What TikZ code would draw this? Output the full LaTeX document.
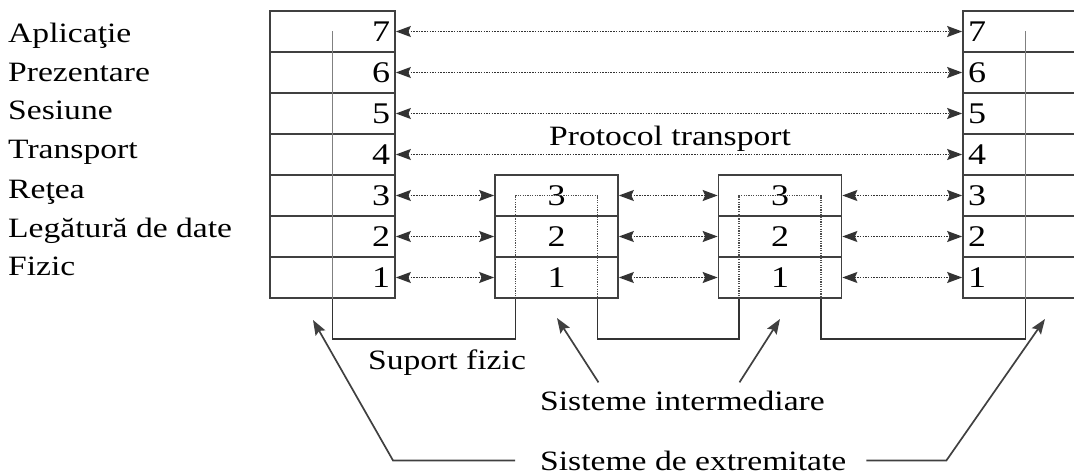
\documentclass[tikz,border=0pt]{standalone}
\usepackage{fontspec}
\setmainfont{Liberation Serif}[FakeStretch=1.2]
\usetikzlibrary{arrows.meta}
\newcommand{\lblsize}{\fontsize{28pt}{30pt}\selectfont}
\newcommand{\digsize}{\fontsize{30pt}{32pt}\selectfont}
\tikzset{
  layerleft/.style={draw=black!75, line width=1.7pt, minimum height=41pt, text width=115pt, inner xsep=5pt, inner ysep=0pt, align=right, font=\digsize},
  layerright/.style={layerleft, align=left},
  layermid/.style={layerleft, text width=113pt, align=center},
  level/.style={anchor=base west, inner sep=0pt, font=\lblsize},
  caption/.style={anchor=base west, inner sep=0pt, font=\lblsize},
  peer/.style={draw=black!80, dash pattern=on 1.5pt off 1.2pt, line width=1.4pt, {Stealth[length=15pt,width=11pt,inset=2.5pt]}-{Stealth[length=15pt,width=11pt,inset=2.5pt]}},
  pointer/.style={line width=1.7pt, draw=black!75, -{Stealth[length=15pt,width=11pt,inset=2.5pt]}},
  medium/.style={line width=1.5pt, draw=black!80},
  inner/.style={line width=1.1pt, draw=black!50},
  innerdot/.style={line width=1.2pt, draw=black!70, dash pattern=on 1.2pt off 1.2pt}
}

\begin{document}
\begin{tikzpicture}[x=1pt,y=-1pt]
\useasboundingbox (0,0) rectangle (1074,476);
\clip (0,0) rectangle (1074,476);
% layer names
\node[level] (apl) at (8,43) {Aplicaţie};
\node[level] (pre) at (8,82) {Prezentare};
\node[level] (ses) at (8,120) {Sesiune};
\node[level] (tra) at (8,159) {Transport};
\node[level] (ret) at (8,198) {Reţea};
\node[level] (leg) at (8,237) {Legătură de date};
\node[level] (fiz) at (8,275) {Fizic};
% end system, left
\node[layerleft] (l7) at (332.5,31.5) {7};
\node[layerleft] (l6) at (332.5,72.5) {6};
\node[layerleft] (l5) at (332.5,113.5) {5};
\node[layerleft] (l4) at (332.5,154.5) {4};
\node[layerleft] (l3) at (332.5,195.5) {3};
\node[layerleft] (l2) at (332.5,236.5) {2};
\node[layerleft] (l1) at (332.5,277.5) {1};
% end system, right
\node[layerright] (r7) at (1025.5,31.5) {7};
\node[layerright] (r6) at (1025.5,72.5) {6};
\node[layerright] (r5) at (1025.5,113.5) {5};
\node[layerright] (r4) at (1025.5,154.5) {4};
\node[layerright] (r3) at (1025.5,195.5) {3};
\node[layerright] (r2) at (1025.5,236.5) {2};
\node[layerright] (r1) at (1025.5,277.5) {1};
% intermediate systems
\node[layermid] (a3) at (556.5,195.5) {3};
\node[layermid] (a2) at (556.5,236.5) {2};
\node[layermid] (a1) at (556.5,277.5) {1};
\node[layermid] (b3) at (780,195.5) {3};
\node[layermid] (b2) at (780,236.5) {2};
\node[layermid] (b1) at (780,277.5) {1};
% peer protocols
\draw[peer] (l7.east) -- (r7.west);
\draw[peer] (l6.east) -- (r6.west);
\draw[peer] (l5.east) -- (r5.west);
\draw[peer] (l4.east) -- (r4.west);
\draw[peer] (l3.east) -- (a3.west);
\draw[peer] (l2.east) -- (a2.west);
\draw[peer] (l1.east) -- (a1.west);
\draw[peer] (a3.east) -- (b3.west);
\draw[peer] (a2.east) -- (b2.west);
\draw[peer] (a1.east) -- (b1.west);
\draw[peer] (b3.east) -- (r3.west);
\draw[peer] (b2.east) -- (r2.west);
\draw[peer] (b1.east) -- (r1.west);
\node[caption] (proto) at (549,146) {Protocol transport};
% physical medium
\draw[inner] (l7.center) -- (l1.south);
\draw[innerdot] ([xshift=-41pt]a1.south) |- (a3.center) -| ([xshift=41pt]a1.south);
\draw[innerdot] ([xshift=-41pt]b1.south) |- (b3.center) -| ([xshift=41pt]b1.south);
\draw[inner] (r7.center) -- (r1.south);
\draw[medium] (l1.south) -- ++(0,40) -| ([xshift=-41pt]a1.south);
\draw[medium] ([xshift=41pt]a1.south) -- ++(0,40) -| ([xshift=-41pt]b1.south);
\draw[medium] ([xshift=41pt]b1.south) -- ++(0,40) -| (r1.south);
\node[caption] (sup) at (368,369) {Suport fizic};
% system labels
\coordinate (tipExtL) at (313,320);
\coordinate (tipExtR) at (1045,319);
\coordinate (tipMidL) at (557,318);
\coordinate (tipMidR) at (780,319);
\node[caption] (mid) at (540,410) {Sisteme intermediare};
\node[caption] (ext) at (540,470) {Sisteme de extremitate};
\draw[pointer] ([xshift=-84pt,yshift=8pt]mid.north) -- (tipMidL);
\draw[pointer] ([xshift=57pt,yshift=8pt]mid.north) -- (tipMidR);
\draw[pointer] ([xshift=-25pt]ext.west) -- ++(-122,0) -- (tipExtL);
\draw[pointer] ([xshift=20pt]ext.east) -- ++(80,0) -- (tipExtR);
\end{tikzpicture}
\end{document}
